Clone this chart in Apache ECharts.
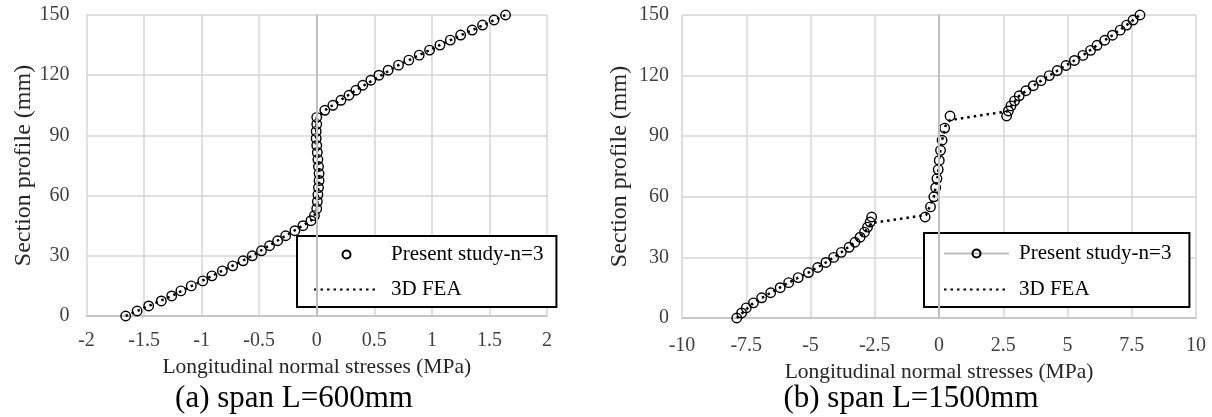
<!DOCTYPE html>
<html>
<head>
<meta charset="utf-8">
<script src="https://cdn.jsdelivr.net/npm/echarts@6/dist/echarts.min.js"></script>
<style>
html, body { margin: 0; padding: 0; background: #fff; }
#chart { width: 1212px; height: 417px; }
</style>
</head>
<body>
<div id="chart"></div>
<script>
// (a) span L=600mm
const stressA = [-1.66, -1.56, -1.46, -1.35, -1.26, -1.18, -1.09, -0.99, -0.91, -0.82,
    -0.73, -0.64, -0.56, -0.48, -0.41, -0.34, -0.27, -0.19, -0.12, -0.05,
    -0.02, 0.0, 0.005, 0.01, 0.015, 0.02, 0.02, 0.015, 0.01, 0.005,
    0.0, -0.005, -0.005, 0.0, 0.0,
    0.07, 0.14, 0.21, 0.28, 0.34, 0.40, 0.47, 0.54, 0.62, 0.71,
    0.80, 0.89, 0.98, 1.07, 1.16, 1.25, 1.35, 1.44, 1.54, 1.64];
const depthA = [0, 2.5, 5, 7.5, 10, 12.5, 15, 17.5, 20, 22.5,
    25, 27.5, 30, 32.5, 35, 37.5, 40, 42.5, 45, 47.5,
    50, 53.5, 57, 60.5, 64, 67.5, 71, 74.5, 78, 81.5,
    85, 88.5, 92, 95.5, 99,
    102.5, 105, 107.5, 110, 112.5, 115, 117.5, 120, 122.5, 125,
    127.5, 130, 132.5, 135, 137.5, 140, 142.5, 145, 147.5, 150];
const feaStressA = [-1.66, -1.26, -0.91, -0.56, -0.27, -0.05, 0.0, 0.02, -0.005, 0.0, 0.07, 0.34, 0.71, 1.16, 1.64];
const feaDepthA = [0, 10, 20, 30, 40, 47.5, 52, 70, 90, 99, 102.5, 112.5, 125, 137.5, 150];

// (b) span L=1500mm
const stressB = [-7.87, -7.68, -7.50, -7.22, -6.90, -6.55, -6.18, -5.85, -5.48, -5.08,
    -4.72, -4.40, -4.10, -3.80, -3.50, -3.27, -3.07, -2.90, -2.78, -2.68, -2.62,
    -0.54, -0.33, -0.20, -0.13, -0.08, -0.03, 0.01, 0.06, 0.12, 0.22, 0.43,
    2.63, 2.70, 2.80, 2.94, 3.12, 3.38, 3.67, 3.97, 4.29, 4.60,
    4.94, 5.27, 5.60, 5.90, 6.15, 6.45, 6.75, 7.05, 7.30, 7.55, 7.82];
const depthB = [0, 2.5, 5, 7.5, 10, 12.5, 15, 17.5, 20, 22.5,
    25, 27.5, 30, 32.5, 35, 37.5, 40, 42.5, 45, 47.5, 50,
    50, 55, 60, 64.5, 69, 73.5, 78, 83, 88, 94, 100,
    100, 102.5, 105, 107.5, 110, 112.5, 115, 117.5, 120, 122.5,
    125, 127.5, 130, 132.5, 135, 137.5, 140, 142.5, 145, 147.5, 150];
const feaStressB = [-7.87, -7.22, -6.55, -5.85, -5.08, -4.40, -3.80, -3.27, -2.90, -2.62,
    -0.50, -0.20, -0.05, 0.02, 0.12, 0.25, 0.43, 2.65, 3.12, 3.67, 4.29, 4.94, 5.60, 6.15, 6.75, 7.30, 7.82];
const feaDepthB = [0, 7.5, 12.5, 17.5, 22.5, 27.5, 32.5, 37.5, 42.5, 47,
    51, 60, 70, 80, 88, 95, 98, 102.3, 110, 115, 120, 125, 130, 135, 140, 145, 150];

const ticksA = [-2, 2, 0.5];
const ticksB = [-10, 10, 2.5];

const serif = 'Liberation Serif';
const zip = (xs, ys) => xs.map((x, i) => [x, ys[i]]);

const chart = echarts.init(document.getElementById('chart'));

function xAxisCfg(idx, t, margin, gap) {
    return {
        type: 'value', gridIndex: idx, min: t[0], max: t[1], interval: t[2],
        name: 'Longitudinal normal stresses (MPa)', nameLocation: 'middle', nameGap: gap,
        nameTextStyle: { fontFamily: serif, fontSize: 21.5, color: '#262626' },
        axisLine: { onZero: false, lineStyle: { color: '#bfbfbf', width: 1.5 } },
        axisTick: { show: false },
        axisLabel: { margin: margin, fontFamily: serif, fontSize: 20, color: '#404040' },
        splitLine: { lineStyle: { color: '#d6d6d6', width: 1.5 } }
    };
}
function yAxisCfg(idx, margin) {
    return {
        type: 'value', gridIndex: idx, min: 0, max: 150, interval: 30,
        name: 'Section profile (mm)', nameLocation: 'middle', nameGap: 50,
        nameTextStyle: { fontFamily: serif, fontSize: 24, color: '#262626' },
        axisLine: { show: false },
        axisTick: { show: false },
        axisLabel: { margin: margin, fontFamily: serif, fontSize: 20, color: '#404040' },
        splitLine: { lineStyle: { color: '#d6d6d6', width: 1.5 } }
    };
}
function presentSeries(idx, xs, ys) {
    return {
        name: 'Present study-n=3', type: 'line', xAxisIndex: idx, yAxisIndex: idx,
        data: zip(xs, ys), symbol: 'circle', symbolSize: 9.5, z: 4,
        lineStyle: { opacity: 0 },
        itemStyle: { color: 'rgba(255,255,255,0)', borderColor: '#000', borderWidth: 1.4 }
    };
}
function feaSeries(idx, xs, ys) {
    return {
        name: '3D FEA', type: 'line', xAxisIndex: idx, yAxisIndex: idx,
        data: zip(xs, ys), symbol: 'none', z: 3,
        lineStyle: { color: '#000', width: 2.5, type: [2.5, 4] },
        itemStyle: { color: '#000', opacity: 0 },
        markLine: {
            silent: true, symbol: 'none', label: { show: false },
            lineStyle: { color: '#bfbfbf', width: 2, type: 'solid', opacity: 1 },
            data: [{ xAxis: 0 }]
        }
    };
}
const legendText = { fontFamily: serif, fontSize: 21, color: '#000' };

const option = {
    animation: false,
    grid: [
        { left: 86.5, top: 15, width: 460.5, height: 301 },
        { left: 682, top: 15, width: 514, height: 303 }
    ],
    xAxis: [xAxisCfg(0, ticksA, 15, 34), xAxisCfg(1, ticksB, 18, 30)],
    yAxis: [yAxisCfg(0, 17), yAxisCfg(1, 13)],
    legend: [
        {
            orient: 'vertical', left: 297, top: 236, itemWidth: 65, itemHeight: 10, itemGap: 14,
            padding: [8, 13, 7, 16], borderColor: '#000', borderWidth: 2, backgroundColor: '#fff',
            selectedMode: false,
            textStyle: Object.assign({ padding: [0, 0, 0, 7] }, legendText),
            data: ['Present study-n=3', '3D FEA']
        },
        {
            orient: 'vertical', left: 924, top: 233, itemWidth: 65, itemHeight: 10, itemGap: 15,
            padding: [10, 18, 7, 19], borderColor: '#000', borderWidth: 2, backgroundColor: '#fff',
            selectedMode: false,
            textStyle: Object.assign({ padding: [0, 0, 0, 5] }, legendText),
            data: [
                { name: 'Present study-n=3', lineStyle: { opacity: 1, color: '#bfbfbf', width: 2 } },
                '3D FEA'
            ]
        }
    ],
    graphic: [
        { type: 'text', style: { text: '(a) span L=600mm', x: 294, y: 399, align: 'center', verticalAlign: 'middle', fontFamily: serif, fontSize: 31, fill: '#000' } },
        { type: 'text', style: { text: '(b) span L=1500mm', x: 911, y: 399, align: 'center', verticalAlign: 'middle', fontFamily: serif, fontSize: 31, fill: '#000' } }
    ],
    series: [
        feaSeries(0, feaStressA, feaDepthA),
        presentSeries(0, stressA, depthA),
        feaSeries(1, feaStressB, feaDepthB),
        presentSeries(1, stressB, depthB)
    ]
};
chart.setOption(option);
</script>
</body>
</html>
